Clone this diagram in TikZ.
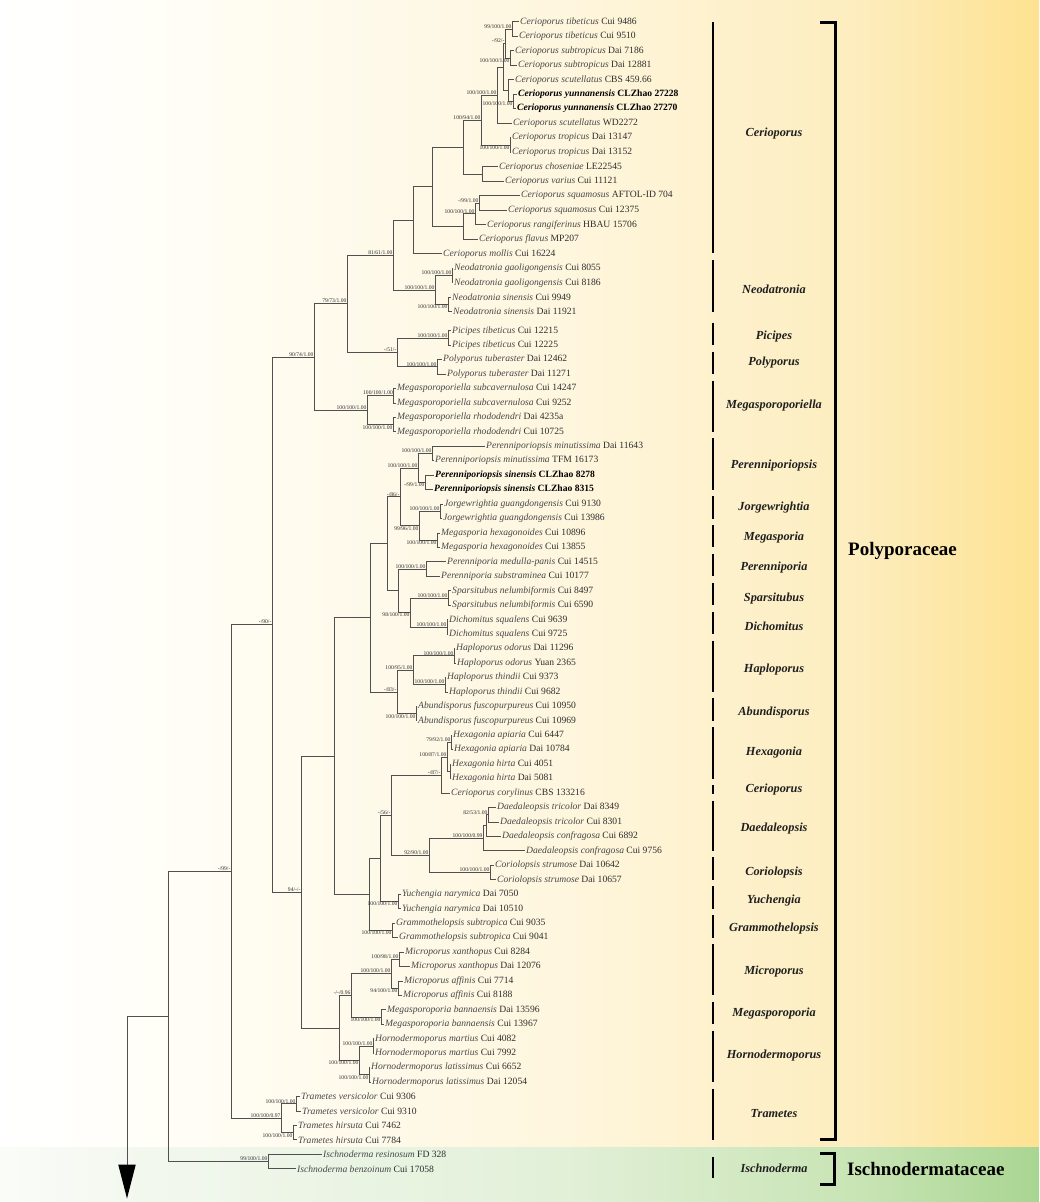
\documentclass[tikz,border=0pt]{standalone}
\usepackage{fontspec}
\setmainfont{Liberation Serif}
\usetikzlibrary{calc}
\definecolor{treec}{HTML}{505050}
\definecolor{txtc}{HTML}{2E2E2E}
\definecolor{spc}{HTML}{484848}
\definecolor{yA}{HTML}{FFFFFF}
\definecolor{yB}{HTML}{FFFEF8}
\definecolor{yC}{HTML}{FEF6DE}
\definecolor{yD}{HTML}{FDEDBE}
\definecolor{yE}{HTML}{FDE291}
\definecolor{gA}{HTML}{FAFCF8}
\definecolor{gB}{HTML}{F3F8EF}
\definecolor{gC}{HTML}{E2F0D8}
\definecolor{gD}{HTML}{C8E4B4}
\definecolor{gE}{HTML}{A9D592}
\newcommand\lf[5]{\node[leaf] (#1) at ([xshift=-1.5pt]#2,#3) {{\color{spc}\itshape #4} #5};}
\newcommand\lfb[5]{\node[leaf,text=black] (#1) at ([xshift=-1.5pt]#2,#3) {\bfseries{\itshape #4} #5};}
\newcommand\tn[4]{\path let \p1=($(#3)!0.5!(#4)$) in coordinate (#1) at (#2pt,\y1);
  \draw[br] (#1) |- (#3); \draw[br] (#1) |- (#4);}
\newcommand\sva[2]{\node[sv,anchor=south east] (s#1) at ([xshift=-0.4pt,yshift=0.5pt]#1) {#2};}
\newcommand\svb[2]{\node[sv,anchor=north east] (s#1) at ([xshift=-0.4pt,yshift=-0.5pt]#1) {#2};}
\newcommand\gb[5]{\coordinate (g#1t) at (713,#2); \coordinate (g#1b) at (713,#3);
  \draw[gbar] (g#1t) -- (g#1b); \node[gl] (gl#1) at (774,#4) {#5};}
\begin{document}
\begin{tikzpicture}[x=1pt,y=-1pt,
  br/.style={draw=treec,line width=0.85pt,line join=miter},
  leaf/.style={anchor=west,inner xsep=1.5pt,inner ysep=0pt,font=\fontsize{9.6}{10}\selectfont,text=txtc},
  sv/.style={font=\fontsize{5.6}{6}\selectfont,inner sep=0pt,text=txtc},
  gbar/.style={draw=black,line width=2.2pt},
  gl/.style={font=\fontsize{12.3}{14}\selectfont\bfseries\itshape,text=black!88,inner sep=0pt},
  fam/.style={font=\fontsize{19}{22}\selectfont\bfseries,anchor=west,inner sep=0pt,text=black},
  brk/.style={draw=black,line width=3pt,line join=miter}]
\useasboundingbox (0,0) rectangle (1039,1202);
% backgrounds
\shade[left color=yA,right color=yB] (0,0) rectangle (140.5,1147);
\shade[left color=yB,right color=yC] (140,0) rectangle (560.5,1147);
\shade[left color=yC,right color=yD] (560,0) rectangle (860.5,1147);
\shade[left color=yD,right color=yE] (860,0) rectangle (1039,1147);
\shade[left color=gA,right color=gB] (0,1147) rectangle (140.5,1202);
\shade[left color=gB,right color=gC] (140,1147) rectangle (560.5,1202);
\shade[left color=gC,right color=gD] (560,1147) rectangle (860.5,1202);
\shade[left color=gD,right color=gE] (860,1147) rectangle (1039,1202);
% leaves
\lf{l1}{520}{21.7}{Cerioporus tibeticus}{Cui 9486}
\lf{l2}{519}{36.2}{Cerioporus tibeticus}{Cui 9510}
\lf{l3}{515}{50.7}{Cerioporus subtropicus}{Dai 7186}
\lf{l4}{518}{65.2}{Cerioporus subtropicus}{Dai 12881}
\lf{l5}{515}{79.7}{Cerioporus scutellatus}{CBS 459.66}
\lfb{l6}{518}{94.2}{Cerioporus yunnanensis}{CLZhao 27228}
\lfb{l7}{517}{108.7}{Cerioporus yunnanensis}{CLZhao 27270}
\lf{l8}{513}{123.2}{Cerioporus scutellatus}{WD2272}
\lf{l9}{512}{137.7}{Cerioporus tropicus}{Dai 13147}
\lf{l10}{512}{152.2}{Cerioporus tropicus}{Dai 13152}
\lf{l11}{499}{166.7}{Cerioporus choseniae}{LE22545}
\lf{l12}{505}{181.2}{Cerioporus varius}{Cui 11121}
\lf{l13}{521}{195.7}{Cerioporus squamosus}{AFTOL-ID 704}
\lf{l14}{508}{210.2}{Cerioporus squamosus}{Cui 12375}
\lf{l15}{487}{224.7}{Cerioporus rangiferinus}{HBAU 15706}
\lf{l16}{479}{239.2}{Cerioporus flavus}{MP207}
\lf{l17}{443}{253.7}{Cerioporus mollis}{Cui 16224}
\lf{l18}{454}{268.2}{Neodatronia gaoligongensis}{Cui 8055}
\lf{l19}{454}{282.7}{Neodatronia gaoligongensis}{Cui 8186}
\lf{l20}{452}{297.2}{Neodatronia sinensis}{Cui 9949}
\lf{l21}{453}{311.7}{Neodatronia sinensis}{Dai 11921}
\lf{l22}{452}{330.7}{Picipes tibeticus}{Cui 12215}
\lf{l23}{452}{345.15}{Picipes tibeticus}{Cui 12225}
\lf{l24}{443}{359.6}{Polyporus tuberaster}{Dai 12462}
\lf{l25}{447}{374.05}{Polyporus tuberaster}{Dai 11271}
\lf{l26}{397}{388.5}{Megasporoporiella subcavernulosa}{Cui 14247}
\lf{l27}{397}{402.95}{Megasporoporiella subcavernulosa}{Cui 9252}
\lf{l28}{397}{417.4}{Megasporoporiella rhododendri}{Dai 4235a}
\lf{l29}{397}{431.85}{Megasporoporiella rhododendri}{Cui 10725}
\lf{l30}{486}{446.3}{Perenniporiopsis minutissima}{Dai 11643}
\lf{l31}{435}{460.75}{Perenniporiopsis minutissima}{TFM 16173}
\lfb{l32}{435}{475.2}{Perenniporiopsis sinensis}{CLZhao 8278}
\lfb{l33}{434}{489.65}{Perenniporiopsis sinensis}{CLZhao 8315}
\lf{l34}{444}{504.1}{Jorgewrightia guangdongensis}{Cui 9130}
\lf{l35}{443}{518.55}{Jorgewrightia guangdongensis}{Cui 13986}
\lf{l36}{441}{533.0}{Megasporia hexagonoides}{Cui 10896}
\lf{l37}{441}{547.45}{Megasporia hexagonoides}{Cui 13855}
\lf{l38}{447}{561.9}{Perenniporia medulla-panis}{Cui 14515}
\lf{l39}{441}{576.35}{Perenniporia substraminea}{Cui 10177}
\lf{l40}{452}{590.8}{Sparsitubus nelumbiformis}{Cui 8497}
\lf{l41}{452}{605.25}{Sparsitubus nelumbiformis}{Cui 6590}
\lf{l42}{449}{619.7}{Dichomitus squalens}{Cui 9639}
\lf{l43}{449}{634.15}{Dichomitus squalens}{Cui 9725}
\lf{l44}{456}{648.6}{Haploporus odorus}{Dai 11296}
\lf{l45}{457}{663.05}{Haploporus odorus}{Yuan 2365}
\lf{l46}{447}{677.5}{Haploporus thindii}{Cui 9373}
\lf{l47}{449}{691.95}{Haploporus thindii}{Cui 9682}
\lf{l48}{418}{706.4}{Abundisporus fuscopurpureus}{Cui 10950}
\lf{l49}{418}{720.85}{Abundisporus fuscopurpureus}{Cui 10969}
\lf{l50}{453}{735.3}{Hexagonia apiaria}{Cui 6447}
\lf{l51}{454}{749.75}{Hexagonia apiaria}{Dai 10784}
\lf{l52}{452}{764.2}{Hexagonia hirta}{Cui 4051}
\lf{l53}{452}{778.65}{Hexagonia hirta}{Dai 5081}
\lf{l54}{451}{793.1}{Cerioporus corylinus}{CBS 133216}
\lf{l55}{497}{807.55}{Daedaleopsis tricolor}{Dai 8349}
\lf{l56}{500}{822.0}{Daedaleopsis tricolor}{Cui 8301}
\lf{l57}{502}{836.45}{Daedaleopsis confragosa}{Cui 6892}
\lf{l58}{526}{850.9}{Daedaleopsis confragosa}{Cui 9756}
\lf{l59}{495}{865.35}{Coriolopsis strumose}{Dai 10642}
\lf{l60}{497}{879.8}{Coriolopsis strumose}{Dai 10657}
\lf{l61}{402}{894.25}{Yuchengia narymica}{Dai 7050}
\lf{l62}{402}{908.7}{Yuchengia narymica}{Dai 10510}
\lf{l63}{396}{923.15}{Grammothelopsis subtropica}{Cui 9035}
\lf{l64}{399}{937.6}{Grammothelopsis subtropica}{Cui 9041}
\lf{l65}{405}{952.05}{Microporus xanthopus}{Cui 8284}
\lf{l66}{411}{966.5}{Microporus xanthopus}{Dai 12076}
\lf{l67}{404}{980.95}{Microporus affinis}{Cui 7714}
\lf{l68}{403}{995.4}{Microporus affinis}{Cui 8188}
\lf{l69}{387}{1009.85}{Megasporoporia bannaensis}{Dai 13596}
\lf{l70}{385}{1024.3}{Megasporoporia bannaensis}{Cui 13967}
\lf{l71}{375}{1038.75}{Hornodermoporus martius}{Cui 4082}
\lf{l72}{375}{1053.2}{Hornodermoporus martius}{Cui 7992}
\lf{l73}{371}{1067.65}{Hornodermoporus latissimus}{Cui 6652}
\lf{l74}{372}{1082.1}{Hornodermoporus latissimus}{Dai 12054}
\lf{l75}{301}{1096.55}{Trametes versicolor}{Cui 9306}
\lf{l76}{302}{1111.0}{Trametes versicolor}{Cui 9310}
\lf{l77}{298}{1125.45}{Trametes hirsuta}{Cui 7462}
\lf{l78}{298}{1139.9}{Trametes hirsuta}{Cui 7784}
\lf{l79}{323}{1154.35}{Ischnoderma resinosum}{FD 328}
\lf{l80}{297}{1168.8}{Ischnoderma benzoinum}{Cui 17058}
% internal nodes
\tn{TB}{512}{l1}{l2}
\tn{SB}{510}{l3}{l4}
\tn{Q}{505}{TB}{SB}
\tn{YN}{513}{l6}{l7}
\tn{Y}{508}{l5}{YN}
\tn{P}{503}{Q}{Y}
\tn{M}{497}{P}{l8}
\tn{TR}{510}{l9}{l10}
\tn{L}{481}{M}{TR}
\tn{CV}{482}{l11}{l12}
\tn{K}{463}{L}{CV}
\tn{SQ}{479}{l13}{l14}
\tn{S2}{475}{SQ}{l15}
\tn{S}{463}{S2}{l16}
\tn{H}{432}{K}{S}
\tn{G}{413}{H}{l17}
\tn{NG}{452}{l18}{l19}
\tn{NS}{448}{l20}{l21}
\tn{N}{435}{NG}{NS}
\tn{F}{393}{G}{N}
\tn{PI}{448}{l22}{l23}
\tn{PL}{437}{l24}{l25}
\tn{PP}{397}{PI}{PL}
\tn{E}{347}{F}{PP}
\tn{MS}{393.5}{l26}{l27}
\tn{MH}{393}{l28}{l29}
\tn{MR}{367}{MS}{MH}
\tn{C}{314}{E}{MR}
\tn{PM}{432}{l30}{l31}
\tn{PS}{425}{l32}{l33}
\tn{PO}{418}{PM}{PS}
\tn{JG}{440}{l34}{l35}
\tn{MG}{437}{l36}{l37}
\tn{JM}{419}{JG}{MG}
\tn{X2}{400}{PO}{JM}
\tn{PE}{426}{l38}{l39}
\tn{SP}{448}{l40}{l41}
\tn{DI}{447}{l42}{l43}
\tn{SD}{410}{SP}{DI}
\tn{X3}{398}{PE}{SD}
\tn{X1}{387}{X2}{X3}
\tn{HO}{454}{l44}{l45}
\tn{HT}{445}{l46}{l47}
\tn{HP}{413}{HO}{HT}
\tn{AB}{416}{l48}{l49}
\tn{X4}{397}{HP}{AB}
\tn{D1a}{370}{X1}{X4}
\tn{HA}{451}{l50}{l51}
\tn{HH}{450}{l52}{l53}
\tn{H4}{447}{HA}{HH}
\tn{HX}{441}{H4}{l54}
\tn{DT}{488}{l55}{l56}
\tn{DB}{486}{DT}{l57}
\tn{DA}{483}{DB}{l58}
\tn{CO}{490}{l59}{l60}
\tn{DC}{429}{DA}{CO}
\tn{X5}{391}{HX}{DC}
\tn{YU}{398}{l61}{l62}
\tn{D1b1}{380}{X5}{YU}
\tn{GR}{392}{l63}{l64}
\tn{D1b}{369}{D1b1}{GR}
\tn{D1}{334}{D1a}{D1b}
\tn{MX}{399}{l65}{l66}
\tn{MA}{398}{l67}{l68}
\tn{MI}{391}{MX}{MA}
\tn{MB}{381}{l69}{l70}
\tn{X6}{351}{MI}{MB}
\tn{HM}{373}{l71}{l72}
\tn{HL}{369}{l73}{l74}
\tn{X7}{359}{HM}{HL}
\tn{D2}{339}{X6}{X7}
\tn{D}{301}{D1}{D2}
\tn{B}{272}{C}{D}
\tn{TV}{296}{l75}{l76}
\tn{TH}{293}{l77}{l78}
\tn{T}{281}{TV}{TH}
\tn{A}{231}{B}{T}
\tn{IS}{268}{l79}{l80}
\tn{R}{168}{A}{IS}
% root and arrow
\path let \p1=(R) in coordinate (rb) at (127pt,\y1);
\coordinate (at) at (127,1164.5);
\draw[br] (R) -- (rb) -- (at);
\fill[black] (at) ++(-8.8,0) -- ++(17.6,0) -- ++(-8.8,34) -- cycle;
% support values
\sva{TB}{99/100/1.00}
\svb{SB}{100/100/1.00}
\sva{Q}{-/92/-}
\svb{YN}{100/100/1.00}
\sva{M}{100/100/1.00}
\svb{TR}{100/100/1.00}
\sva{L}{100/94/1.00}
\sva{SQ}{-/99/1.00}
\sva{S2}{100/100/1.00}
\sva{NG}{100/100/1.00}
\svb{NS}{100/100/1.00}
\sva{N}{100/100/1.00}
\sva{F}{81/61/1.00}
\sva{PI}{100/100/1.00}
\sva{PL}{100/100/1.00}
\sva{PP}{-/51/-}
\sva{E}{79/73/1.00}
\sva{MS}{100/100/1.00}
\svb{MH}{100/100/1.00}
\sva{MR}{100/100/1.00}
\sva{C}{90/74/1.00}
\sva{PM}{100/100/1.00}
\svb{PS}{-/99/1.00}
\sva{PO}{100/100/1.00}
\sva{JG}{100/100/1.00}
\svb{MG}{100/100/1.00}
\svb{JM}{99/96/1.00}
\sva{X2}{-/86/-}
\sva{PE}{100/100/1.00}
\sva{SP}{100/100/1.00}
\sva{DI}{100/100/1.00}
\svb{SD}{98/100/1.00}
\sva{HO}{100/100/1.00}
\sva{HT}{100/100/1.00}
\sva{HP}{100/95/1.00}
\svb{AB}{100/100/1.00}
\sva{X4}{-/83/-}
\sva{HA}{79/92/1.00}
\sva{H4}{100/87/1.00}
\sva{HX}{-/87/-}
\sva{DT}{82/53/1.00}
\sva{DA}{100/100/0.99}
\sva{CO}{100/100/1.00}
\sva{DC}{92/90/1.00}
\sva{X5}{-/56/-}
\svb{YU}{100/100/1.00}
\svb{GR}{100/100/1.00}
\sva{MX}{100/98/1.00}
\svb{MA}{94/100/1.00}
\sva{MI}{100/100/1.00}
\svb{MB}{100/100/1.00}
\sva{X6}{-/-/0.96}
\sva{HM}{100/100/1.00}
\svb{HL}{100/100/1.00}
\svb{X7}{100/100/1.00}
\sva{D}{94/-/-}
\sva{B}{-/90/-}
\sva{TV}{100/100/1.00}
\svb{TH}{100/100/1.00}
\sva{T}{100/100/0.97}
\sva{A}{-/99/-}
\sva{IS}{99/100/1.00}
% genus bars and labels
\gb{1}{22}{253}{134}{Cerioporus}
\gb{2}{260.2}{311.7}{289}{Neodatronia}
\gb{3}{322.7}{345.2}{337}{Picipes}
\gb{4}{351.6}{374}{363}{Polyporus}
\gb{5}{380.5}{431.8}{406}{Megasporoporiella}
\gb{6}{438.3}{489.6}{466}{Perenniporiopsis}
\gb{7}{496.1}{518.5}{508}{Jorgewrightia}
\gb{8}{525}{547.4}{538}{Megasporia}
\gb{9}{553.9}{576.3}{568}{Perenniporia}
\gb{10}{582.8}{605.2}{599}{Sparsitubus}
\gb{11}{611.7}{634.1}{626}{Dichomitus}
\gb{12}{640.6}{692}{670}{Haploporus}
\gb{13}{698.4}{720.8}{713}{Abundisporus}
\gb{14}{727.3}{778.6}{753}{Hexagonia}
\gb{15}{785.1}{794}{790}{Cerioporus}
\gb{16}{800.5}{850.9}{829}{Daedaleopsis}
\gb{17}{857.3}{879.8}{873}{Coriolopsis}
\gb{18}{886.2}{908.7}{901}{Yuchengia}
\gb{19}{915.1}{937.6}{929}{Grammothelopsis}
\gb{20}{944}{995.4}{972}{Microporus}
\gb{21}{1001.8}{1024.3}{1014}{Megasporoporia}
\gb{22}{1030.7}{1082.1}{1056}{Hornodermoporus}
\gb{23}{1088.5}{1139.9}{1114}{Trametes}
\gb{24}{1157}{1178}{1168}{Ischnoderma}
% family brackets
\coordinate (p1) at (820,22); \coordinate (p2) at (835,22);
\coordinate (p3) at (835,1139.5); \coordinate (p4) at (820,1139.5);
\draw[brk] (p1) -- (p2) -- (p3) -- (p4);
\coordinate (q1) at (820,1153.5); \coordinate (q2) at (834,1153.5);
\coordinate (q3) at (834,1184); \coordinate (q4) at (820,1184);
\draw[brk] (q1) -- (q2) -- (q3) -- (q4);
\node[fam] (polyp) at (848,551) {Polyporaceae};
\node[fam] (ischn) at (847,1169) {Ischnodermataceae};
\end{tikzpicture}
\end{document}
